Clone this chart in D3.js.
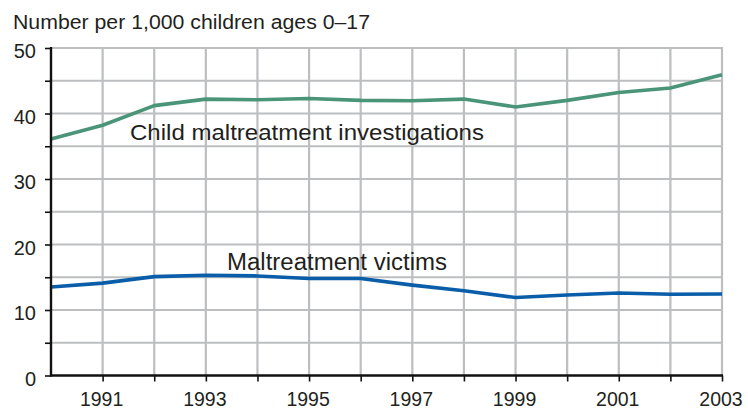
<!DOCTYPE html>
<html>
<head>
<meta charset="utf-8">
<script src="https://cdn.jsdelivr.net/npm/d3@7"></script>
<style>
  html, body { margin: 0; padding: 0; background: #fff; }
  svg { display: block; font-family: "Liberation Sans", Arial, Helvetica, sans-serif; }
</style>
</head>
<body>
<svg id="chart" width="748" height="411"></svg>
<script>
// Rates per 1,000 children ages 0–17, 1990–2003
const years = [1990, 1991, 1992, 1993, 1994, 1995, 1996, 1997, 1998, 1999, 2000, 2001, 2002, 2003];
const investigations = [36.1, 38.2, 41.2, 42.2, 42.1, 42.3, 42.0, 41.95, 42.2, 41.0, 42.0, 43.2, 43.9, 45.9];
const victims = [13.5, 14.1, 15.1, 15.3, 15.2, 14.8, 14.8, 13.8, 12.95, 11.9, 12.3, 12.6, 12.4, 12.45];
const yGrid = [0, 5, 10, 15, 20, 25, 30, 35, 40, 45, 50];
const yLabels = [0, 10, 20, 30, 40, 50];
const xLabels = [1991, 1993, 1995, 1997, 1999, 2001, 2003];

const svg = d3.select("#chart");
const plotLeft = 51, plotRight = 722, plotTop = 48, plotBottom = 375.5;

const x = d3.scaleLinear().domain([1990, 2003]).range([plotLeft, plotRight]);
const y = d3.scaleLinear().domain([0, 50]).range([plotBottom, plotTop]);

const textColor = "#231f20";
const gridColor = "#bcbec0";

// Title
svg.append("text")
  .attr("x", 13).attr("y", 29)
  .attr("font-size", 20)
  .attr("textLength", 357).attr("lengthAdjust", "spacingAndGlyphs")
  .attr("fill", textColor)
  .text("Number per 1,000 children ages 0–17");

// Grid
const grid = svg.append("g");
grid.selectAll("line.h").data(yGrid.filter(v => v > 0)).join("line")
  .attr("class", "h")
  .attr("x1", plotLeft).attr("x2", plotRight)
  .attr("y1", d => y(d)).attr("y2", d => y(d))
  .attr("stroke", gridColor).attr("stroke-width", 2.2);
grid.selectAll("line.v").data(years.slice(1)).join("line")
  .attr("class", "v")
  .attr("x1", d => x(d)).attr("x2", d => x(d))
  .attr("y1", plotTop - 1).attr("y2", plotBottom)
  .attr("stroke", gridColor).attr("stroke-width", 2.2);

// Series
const line = d3.line().x((d, i) => x(years[i])).y(d => y(d));
svg.append("path").datum(investigations)
  .attr("d", line).attr("fill", "none")
  .attr("stroke", "#4a9478").attr("stroke-width", 3.6)
  .attr("stroke-linejoin", "round");
svg.append("path").datum(victims)
  .attr("d", line).attr("fill", "none")
  .attr("stroke", "#0a5da8").attr("stroke-width", 3.6)
  .attr("stroke-linejoin", "round");

// Y axis
const yAxis = d3.axisLeft(y).tickValues(yGrid).tickSize(6).tickFormat(d => yLabels.includes(d) ? d : "");
const gy = svg.append("g").attr("transform", `translate(${plotLeft},0)`).call(yAxis);
gy.select(".domain").attr("stroke", "#111").attr("stroke-width", 2.4).attr("d", `M0,${plotTop - 1}V${plotBottom + 1}`);
gy.selectAll(".tick line").attr("stroke", "#111").attr("stroke-width", 1.6);
gy.selectAll(".tick text")
  .attr("x", -15).attr("dy", "0.48em")
  .attr("font-size", 20).attr("font-family", "Liberation Sans, Arial, sans-serif")
  .attr("fill", textColor);

// X axis
const xAxis = d3.axisBottom(x).tickValues(years.slice(1)).tickSize(6)
  .tickFormat(d => xLabels.includes(d) ? d : "");
const gx = svg.append("g").attr("transform", `translate(0,${plotBottom})`).call(xAxis);
gx.select(".domain").attr("stroke", "#111").attr("stroke-width", 2.4).attr("d", `M${plotLeft - 1},0H${plotRight + 1}`);
gx.selectAll(".tick line").attr("stroke", "#111").attr("stroke-width", 1.6);
gx.selectAll(".tick text")
  .attr("x", -1.5).attr("y", 16.5).attr("dy", "0.71em")
  .attr("font-size", 19.5).attr("font-family", "Liberation Sans, Arial, sans-serif")
  .attr("fill", textColor);

// Series labels
svg.append("text")
  .attr("x", 130).attr("y", 139.5)
  .attr("font-size", 22.5).attr("fill", textColor)
  .attr("textLength", 354).attr("lengthAdjust", "spacingAndGlyphs")
  .text("Child maltreatment investigations");
svg.append("text")
  .attr("x", 227).attr("y", 270)
  .attr("font-size", 23).attr("fill", textColor)
  .attr("textLength", 220).attr("lengthAdjust", "spacingAndGlyphs")
  .text("Maltreatment victims");
</script>
</body>
</html>
